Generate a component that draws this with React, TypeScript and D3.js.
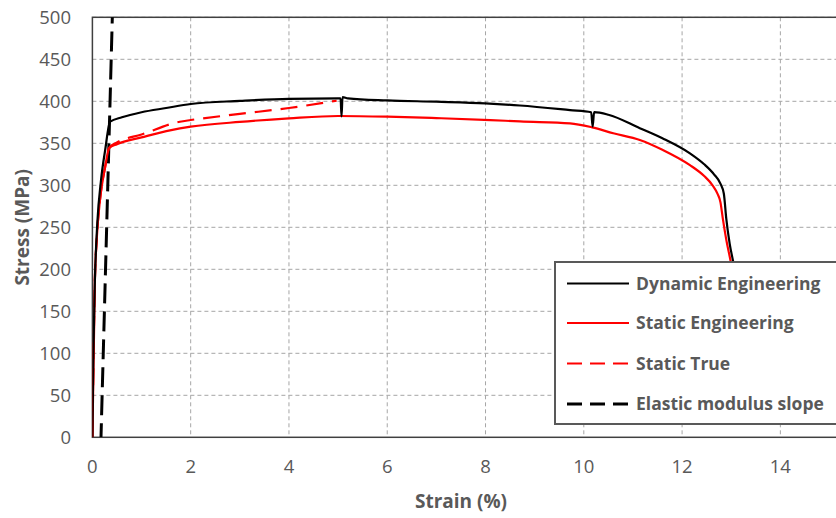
import React from "react";
import * as d3 from "d3";

const xTicks = [0, 2, 4, 6, 8, 10, 12, 14];
const xGrid = [2, 4, 6, 8, 10, 12, 14, 16];
const yTicks = [0, 50, 100, 150, 200, 250, 300, 350, 400, 450, 500];

const dynamicX = [0, 0.02, 0.05, 0.1, 0.175, 0.26, 0.36, 0.6, 1.0, 1.5, 2, 3, 4, 5, 5.05, 5.07, 5.09, 5.2, 6, 7, 8, 8.7, 9.72, 10.15, 10.18, 10.21, 10.5, 11.14, 11.6, 12.16, 12.45, 12.65, 12.78, 12.85, 12.9, 12.97, 13.04, 13.15];
const dynamicY = [0, 100, 185, 255, 306, 342, 375.7, 381, 387, 392, 396.8, 400.5, 403, 403.5, 403.5, 382, 405, 403.5, 401, 399.5, 397.6, 395, 389.5, 387, 370, 387, 384, 368, 356, 338, 325, 313, 302, 290, 260, 230, 209, 170];

const staticEngX = [0, 0.05, 0.087, 0.155, 0.26, 0.34, 0.5, 1, 1.78, 2, 3, 4, 5, 6, 7, 8.1, 8.7, 9.72, 10.17, 10.6, 11.14, 11.61, 12.16, 12.45, 12.62, 12.72, 12.78, 12.83, 12.9, 12.99, 13.1];
const staticEngY = [0, 187, 235, 283, 322, 344, 349, 357, 367.8, 369.8, 375.5, 379.7, 382.5, 381.7, 380, 377.7, 376, 373.8, 369, 362, 354, 342, 324, 311, 300, 290, 280, 260, 235, 209, 170];

const staticTrueX = [0, 0.05, 0.087, 0.155, 0.26, 0.34, 0.5, 1, 1.78, 2, 3, 4, 4.97];
const staticTrueY = [0, 187, 235, 283, 322, 344.5, 351, 360.5, 375.7, 377.7, 385, 392, 400.7];

const elasticX = [0.175, 0.41];
const elasticY = [0, 510];

const legendLabels = ["Dynamic Engineering", "Static Engineering", "Static True", "Elastic modulus slope"];
const legendColors = ["#000000", "#ff0000", "#ff0000", "#000000"];
const legendDash = [null, null, "15,8", "15,8"];
const legendWidth = [2, 2, 2, 3];

const W = 836;
const H = 518;
const left = 92.4;
const top = 17.3;
const bottom = 437.3;

export default function App() {
  const x = d3.scaleLinear().domain([0, 16]).range([left, left + 16 * 49.14]);
  const y = d3.scaleLinear().domain([0, 500]).range([bottom, top]);
  const line = d3
    .line<[number, number]>()
    .x((d) => x(d[0]))
    .y((d) => y(d[1]))
    .curve(d3.curveMonotoneX);
  const lineLin = d3
    .line<[number, number]>()
    .x((d) => x(d[0]))
    .y((d) => y(d[1]));
  const zip = (a: number[], b: number[]) => a.map((v, i) => [v, b[i]] as [number, number]);

  const right = x(16);
  const font = "'Open Sans', sans-serif";
  const grey = "#595959";
  const gridColor = "#a6a6a6";

  const legX = 555;
  const legY = 262;
  const legRowY = [283.5, 323, 363.5, 404];

  return (
    <div style={{ position: "absolute", left: 0, top: 0 }}>
      <svg width={W} height={H} style={{ display: "block", background: "#fff" }}>
        <defs>
          <clipPath id="plot">
            <rect x={left} y={top} width={right - left} height={bottom - top} />
          </clipPath>
        </defs>
        <rect width={W} height={H} fill="#fff" />
        {yTicks.filter((t) => t > 0).map((t) => (
          <line key={"gy" + t} x1={left} x2={right} y1={y(t)} y2={y(t)} stroke={gridColor} strokeWidth={1} strokeDasharray="4,3" />
        ))}
        {xGrid.map((t) => (
          <line key={"gx" + t} x1={x(t)} x2={x(t)} y1={top} y2={bottom} stroke={gridColor} strokeWidth={1} strokeDasharray="4,3" />
        ))}
        <rect x={left} y={top} width={right - left} height={bottom - top} fill="none" stroke="#404040" strokeWidth={1.5} />
        {yTicks.map((t) => (
          <text key={"ty" + t} x={71} y={y(t)} dy="0.35em" textAnchor="end" fontFamily={font} fontSize={18.5} fill={grey}>
            {t}
          </text>
        ))}
        {xTicks.map((t) => (
          <text key={"tx" + t} x={x(t)} y={473} textAnchor="middle" fontFamily={font} fontSize={18.5} fill={grey}>
            {t}
          </text>
        ))}
        <text x={x(7.5)} y={508} textAnchor="middle" fontFamily={font} fontSize={19} fontWeight="bold" fill={grey}>
          Strain (%)
        </text>
        <text transform={`translate(29,${(top + bottom) / 2}) rotate(-90)`} textAnchor="middle" fontFamily={font} fontSize={19} fontWeight="bold" fill={grey}>
          Stress (MPa)
        </text>
        <g clipPath="url(#plot)" fill="none">
          <path d={lineLin(zip(elasticX, elasticY)) || ""} stroke="#000" strokeWidth={3} strokeDasharray="20,8" strokeDashoffset={6} />
          <path d={line(zip(staticEngX, staticEngY)) || ""} stroke="#ff0000" strokeWidth={2.2} strokeLinejoin="round" />
          <path d={line(zip(staticTrueX, staticTrueY)) || ""} stroke="#ff0000" strokeWidth={2.2} strokeDasharray="17,9" />
          <path d={line(zip(dynamicX, dynamicY)) || ""} stroke="#000" strokeWidth={2.2} strokeLinejoin="round" />
        </g>
        <rect x={legX} y={legY} width={W - legX + 20} height={424 - legY} fill="#fff" stroke="#595959" strokeWidth={2} />
        {legendLabels.map((lab, i) => (
          <g key={lab}>
            <line x1={567} x2={629} y1={legRowY[i]} y2={legRowY[i]} stroke={legendColors[i]} strokeWidth={legendWidth[i]} strokeDasharray={legendDash[i] || undefined} />
            <text x={636} y={legRowY[i]} dy="0.35em" fontFamily={font} fontSize={17.5} fontWeight="bold" fill={grey}>
              {lab}
            </text>
          </g>
        ))}
      </svg>
    </div>
  );
}
